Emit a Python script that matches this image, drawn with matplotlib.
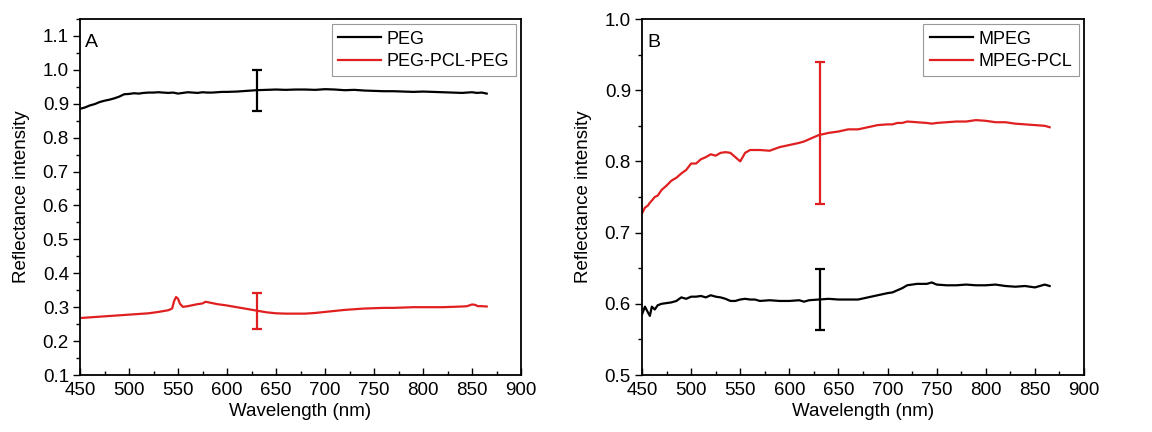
import numpy as np
import matplotlib
matplotlib.use('Agg')
import matplotlib.pyplot as plt
from matplotlib.ticker import MultipleLocator

plt.rcParams['font.family'] = ['Liberation Sans', 'DejaVu Sans']

# panel A data
wl_a = [450, 455, 460, 465, 470, 475, 480, 485, 490, 495, 500, 505, 510, 515, 520, 525,
        530, 535, 540, 545, 550, 555, 560, 565, 570, 575, 580, 585, 590, 595, 600, 610,
        620, 630, 640, 650, 660, 670, 680, 690, 700, 710, 720, 730, 740, 750, 760, 770,
        780, 790, 800, 810, 820, 830, 840, 850, 855, 860, 865]
peg = [0.885, 0.889, 0.895, 0.899, 0.905, 0.909, 0.912, 0.916, 0.921, 0.928, 0.929, 0.931,
       0.930, 0.932, 0.933, 0.933, 0.934, 0.933, 0.932, 0.933, 0.930, 0.932, 0.934, 0.933,
       0.932, 0.934, 0.933, 0.933, 0.934, 0.935, 0.935, 0.936, 0.938, 0.940, 0.941, 0.942,
       0.941, 0.942, 0.942, 0.941, 0.943, 0.942, 0.940, 0.941, 0.939, 0.938, 0.937, 0.937,
       0.936, 0.935, 0.936, 0.935, 0.934, 0.933, 0.932, 0.934, 0.932, 0.933, 0.930]
wl_a2 = [450, 460, 470, 480, 490, 500, 510, 520, 530, 540, 544, 546, 548, 550, 552, 555,
         560, 565, 570, 575, 578, 580, 585, 590, 600, 610, 620, 630, 640, 650, 660, 670,
         680, 690, 700, 710, 720, 730, 740, 750, 760, 770, 780, 790, 800, 810, 820, 830,
         840, 845, 850, 853, 856, 860, 865]
pcl_a = [0.268, 0.270, 0.272, 0.274, 0.276, 0.278, 0.280, 0.282, 0.286, 0.291, 0.296, 0.318,
         0.330, 0.325, 0.310, 0.301, 0.303, 0.306, 0.309, 0.311, 0.316, 0.315, 0.312, 0.309,
         0.305, 0.300, 0.295, 0.290, 0.285, 0.282, 0.281, 0.281, 0.281, 0.283, 0.286, 0.289,
         0.292, 0.294, 0.296, 0.297, 0.298, 0.298, 0.299, 0.300, 0.300, 0.300, 0.300, 0.301,
         0.302, 0.303, 0.308, 0.307, 0.303, 0.303, 0.302]

# panel B data
wl_b = [450, 453, 456, 458, 460, 463, 466, 470, 475, 480, 485, 490, 495, 500, 505, 510,
        515, 520, 525, 530, 535, 540, 545, 550, 555, 560, 565, 570, 580, 590, 600, 610,
        615, 620, 630, 640, 650, 660, 670, 680, 690, 700, 705, 710, 715, 720, 730, 740,
        745, 750, 760, 770, 780, 790, 800, 810, 820, 830, 840, 850, 860, 865]
mpeg = [0.585, 0.596, 0.588, 0.583, 0.596, 0.592, 0.598, 0.600, 0.601, 0.602, 0.604, 0.609,
        0.607, 0.610, 0.610, 0.611, 0.609, 0.612, 0.610, 0.609, 0.607, 0.604, 0.604, 0.606,
        0.607, 0.606, 0.606, 0.604, 0.605, 0.604, 0.604, 0.605, 0.603, 0.605, 0.606, 0.607,
        0.606, 0.606, 0.606, 0.609, 0.612, 0.615, 0.616, 0.619, 0.622, 0.626, 0.628, 0.628,
        0.630, 0.627, 0.626, 0.626, 0.627, 0.626, 0.626, 0.627, 0.625, 0.624, 0.625, 0.623,
        0.627, 0.625]
mpcl = [0.727, 0.735, 0.738, 0.742, 0.745, 0.750, 0.752, 0.760, 0.766, 0.773, 0.777, 0.783,
        0.788, 0.797, 0.797, 0.803, 0.806, 0.810, 0.808, 0.812, 0.813, 0.812, 0.806, 0.800,
        0.812, 0.816, 0.816, 0.816, 0.815, 0.820, 0.823, 0.826, 0.828, 0.831, 0.837, 0.840,
        0.842, 0.845, 0.845, 0.848, 0.851, 0.852, 0.852, 0.854, 0.854, 0.856, 0.855, 0.854,
        0.853, 0.854, 0.855, 0.856, 0.856, 0.858, 0.857, 0.855, 0.855, 0.853, 0.852, 0.851,
        0.850, 0.848]

err_x = 631
err_a = [(0.940, 0.060, 'black'), (0.290, 0.053, '#e02020')]
err_b = [(0.606, 0.043, 'black'), (0.840, 0.100, '#e02020')]

red = '#e02020'
fig = plt.figure(figsize=(11.52, 4.32), dpi=100)
ax1 = fig.add_axes([80 / 1152, 1 - 375 / 432, 441 / 1152, 356 / 432])
ax2 = fig.add_axes([642 / 1152, 1 - 375 / 432, 442 / 1152, 356 / 432])

ax1.plot(wl_a, peg, color='black', lw=1.6, label='PEG')
ax1.plot(wl_a2, pcl_a, color=red, lw=1.6, label='PEG-PCL-PEG')
for yc, ye, c in err_a:
    ax1.errorbar([err_x], [yc], yerr=[ye], color=c, capsize=3.5, lw=1.6, capthick=1.6, fmt='none')
ax1.set_ylim(0.1, 1.15)
ax1.yaxis.set_major_locator(MultipleLocator(0.1))
ax1.yaxis.set_minor_locator(MultipleLocator(0.05))
ax1.text(0.012, 0.935, 'A', transform=ax1.transAxes, fontsize=14, va='center')

ax2.plot(wl_b, mpeg, color='black', lw=1.6, label='MPEG')
ax2.plot(wl_b, mpcl, color=red, lw=1.6, label='MPEG-PCL')
for yc, ye, c in err_b:
    ax2.errorbar([err_x], [yc], yerr=[ye], color=c, capsize=3.5, lw=1.6, capthick=1.6, fmt='none')
ax2.set_ylim(0.5, 1.0)
ax2.yaxis.set_major_locator(MultipleLocator(0.1))
ax2.yaxis.set_minor_locator(MultipleLocator(0.05))
ax2.text(0.012, 0.935, 'B', transform=ax2.transAxes, fontsize=14, va='center')

for ax in (ax1, ax2):
    ax.set_xlim(450, 900)
    ax.xaxis.set_major_locator(MultipleLocator(50))
    ax.xaxis.set_minor_locator(MultipleLocator(25))
    ax.tick_params(axis='x', which='both', direction='in', labelsize=13.5, pad=5)
    ax.tick_params(axis='y', which='both', direction='out', labelsize=13.5, pad=3)
    ax.tick_params(which='major', length=5, width=1)
    ax.tick_params(which='minor', length=3, width=1)
    ax.set_xlabel('Wavelength (nm)', fontsize=13.5, labelpad=3)
    ax.set_ylabel('Reflectance intensity', fontsize=13.5, labelpad=9)
    for s in ax.spines.values():
        s.set_linewidth(1.3)
    leg = ax.legend(loc='upper right', fontsize=13, handlelength=2.4, handletextpad=0.3,
                    borderpad=0.35, labelspacing=0.3, fancybox=False, framealpha=1,
                    borderaxespad=0.3)
    leg.get_frame().set_edgecolor('#999999')
    leg.get_frame().set_linewidth(0.8)

fig.savefig('out.png', dpi=100)
